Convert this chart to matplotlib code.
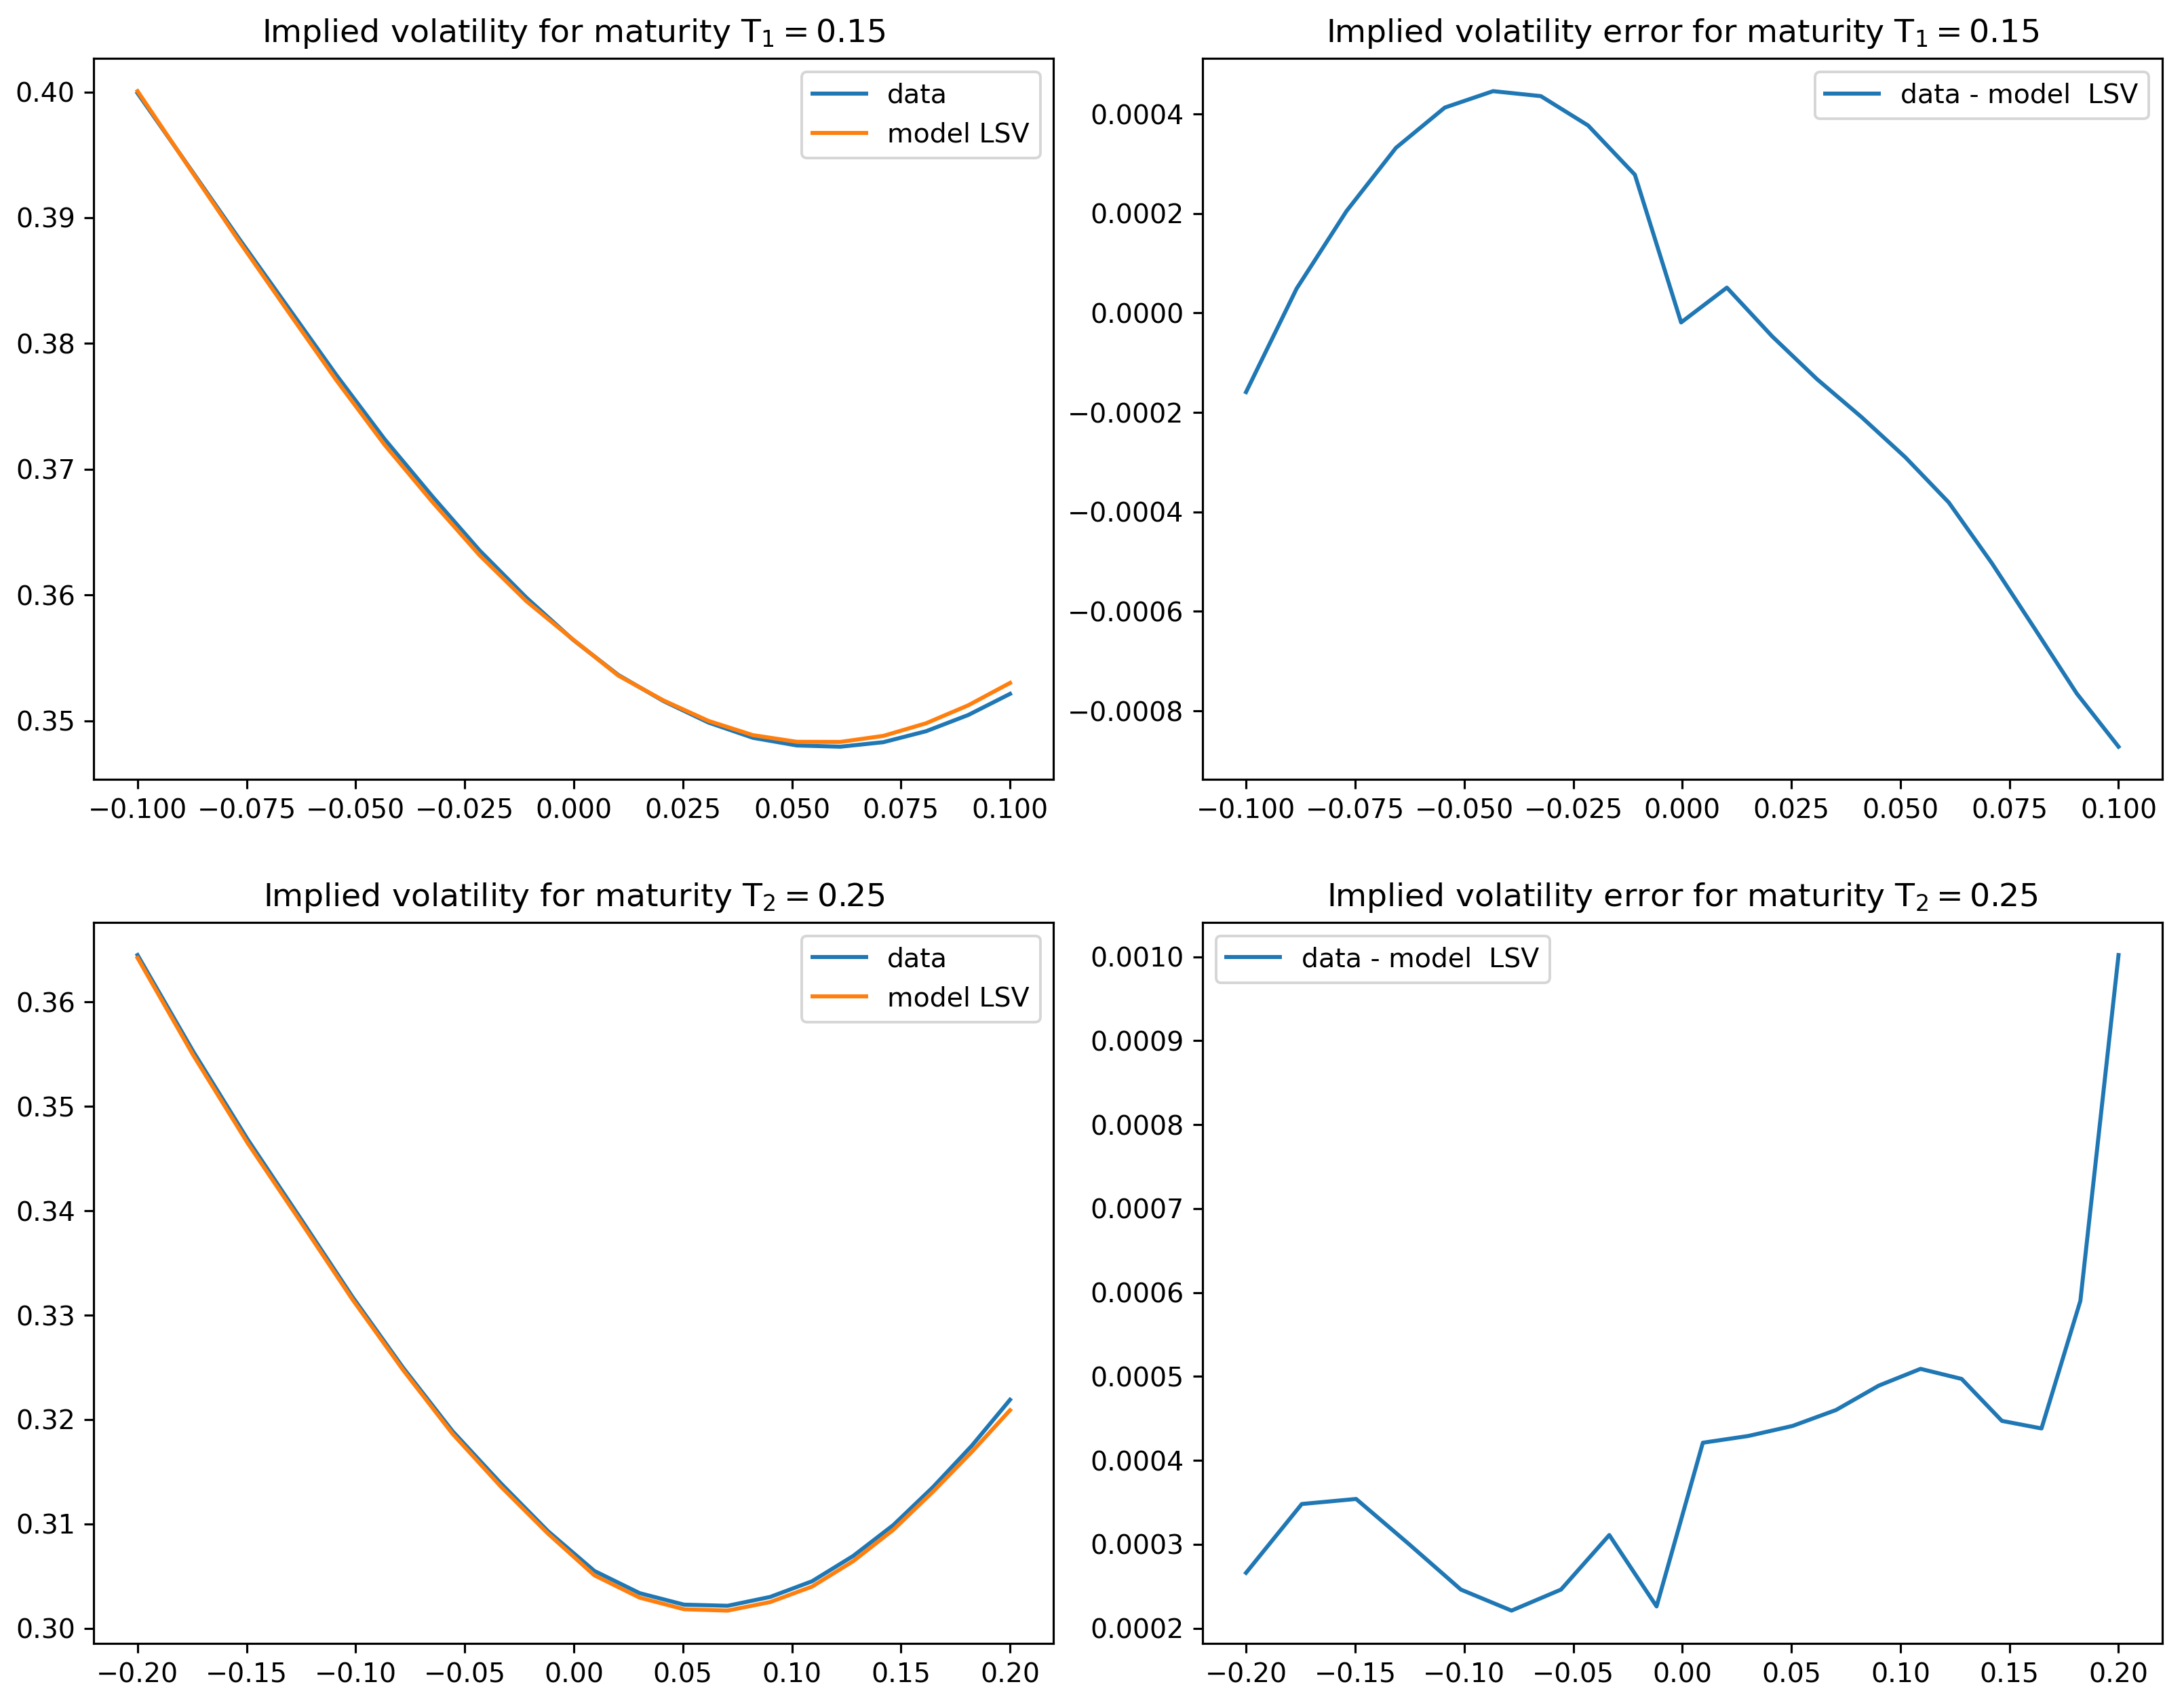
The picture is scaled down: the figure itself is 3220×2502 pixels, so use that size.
import matplotlib
matplotlib.use("Agg")
import matplotlib.pyplot as plt

# log-moneyness grids
x_T1 = [-0.1, -0.08841, -0.07696, -0.06564, -0.05444, -0.04337, -0.03242, -0.02159, -0.01087, -0.00027,
        0.01022, 0.02061, 0.03088, 0.04105, 0.05112, 0.06109, 0.07096, 0.08074, 0.09042, 0.1]
x_T2 = [-0.2, -0.17444, -0.14952, -0.12521, -0.10148, -0.07829, -0.05563, -0.03347, -0.01179, 0.00943,
        0.03020, 0.05056, 0.07051, 0.09006, 0.10924, 0.12807, 0.14654, 0.16468, 0.18250, 0.2]

# implied vols T1
data_T1 = [0.39990, 0.39415, 0.38845, 0.38295, 0.37750, 0.37240, 0.36785, 0.36355, 0.35980, 0.35648,
           0.35365, 0.35157, 0.34987, 0.34866, 0.34805, 0.34795, 0.34831, 0.34918, 0.35047, 0.35215]
model_T1 = [0.40006, 0.39410, 0.38825, 0.38262, 0.37709, 0.37195, 0.36741, 0.36317, 0.35952, 0.35650,
            0.35360, 0.35162, 0.35000, 0.34887, 0.34834, 0.34833, 0.34881, 0.34981, 0.35124, 0.35302]
err_T1 = [-1.59e-4, 0.49e-4, 2.05e-4, 3.32e-4, 4.13e-4, 4.46e-4, 4.36e-4, 3.77e-4, 2.78e-4, -0.19e-4,
          0.51e-4, -0.47e-4, -1.33e-4, -2.09e-4, -2.90e-4, -3.81e-4, -5.03e-4, -6.34e-4, -7.65e-4, -8.72e-4]

# implied vols T2
data_T2 = [0.36450, 0.35525, 0.34684, 0.33925, 0.33176, 0.32498, 0.31890, 0.31390, 0.30930, 0.30550,
           0.30337, 0.30227, 0.30216, 0.30301, 0.30451, 0.30693, 0.30990, 0.31353, 0.31750, 0.32190]
model_T2 = [0.36423, 0.35490, 0.34649, 0.33895, 0.33151, 0.32476, 0.31865, 0.31359, 0.30907, 0.30508,
            0.30294, 0.30183, 0.30170, 0.30252, 0.30400, 0.30643, 0.30945, 0.31309, 0.31691, 0.32090]
err_T2 = [2.66e-4, 3.48e-4, 3.54e-4, 3.00e-4, 2.46e-4, 2.21e-4, 2.46e-4, 3.11e-4, 2.26e-4, 4.21e-4,
          4.29e-4, 4.41e-4, 4.60e-4, 4.89e-4, 5.09e-4, 4.97e-4, 4.47e-4, 4.38e-4, 5.90e-4, 10.02e-4]

dpi = 284.4
fig, axs = plt.subplots(2, 2, figsize=(3220 / dpi, 2502 / dpi), dpi=dpi)
plt.subplots_adjust(left=0.043, right=0.990, top=0.9656, bottom=0.0316, wspace=0.155, hspace=0.198)

ax = axs[0, 0]
ax.plot(x_T1, data_T1, label="data")
ax.plot(x_T1, model_T1, label="model LSV")
ax.set_title(r"Implied volatility for maturity $\mathrm{T_1 = 0.15}$")
ax.legend()

ax = axs[0, 1]
ax.plot(x_T1, err_T1, label="data - model  LSV")
ax.set_title(r"Implied volatility error for maturity $\mathrm{T_1 = 0.15}$")
ax.legend()

ax = axs[1, 0]
ax.plot(x_T2, data_T2, label="data")
ax.plot(x_T2, model_T2, label="model LSV")
ax.set_title(r"Implied volatility for maturity $\mathrm{T_2 = 0.25}$")
ax.legend()

ax = axs[1, 1]
ax.plot(x_T2, err_T2, label="data - model  LSV")
ax.set_title(r"Implied volatility error for maturity $\mathrm{T_2 = 0.25}$")
ax.legend()

plt.savefig("out.png", dpi=dpi)
